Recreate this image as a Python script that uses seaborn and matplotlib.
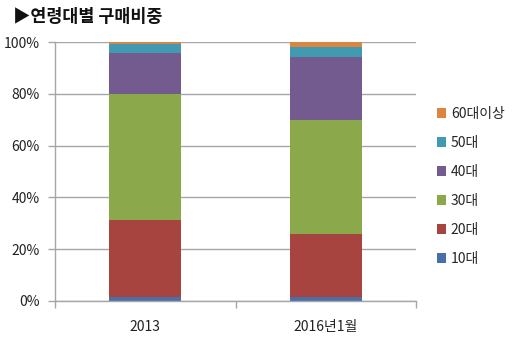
import matplotlib
matplotlib.use("Agg")
import matplotlib.pyplot as plt
from matplotlib.patches import Patch
from matplotlib.ticker import FixedLocator, PercentFormatter
import seaborn as sns
import numpy as np

# Purchase share by age group (%)
periods = ["2013", "2016년1월"]
age_groups = ["10대", "20대", "30대", "40대", "50대", "60대이상"]
share_10s = [1.4, 1.4]
share_20s = [29.9, 24.5]
share_30s = [48.8, 44.0]
share_40s = [15.8, 24.2]
share_50s = [3.3, 3.9]
share_60s = [0.8, 2.0]
colors = ["#4A6FA8", "#A8443F", "#8BA94A", "#735A8F", "#3F9AB2", "#DC8541"]

series = [share_10s, share_20s, share_30s, share_40s, share_50s, share_60s]

sns.set_theme(style="white")
plt.rcParams["font.family"] = ["Noto Sans CJK KR", "DejaVu Sans"]

fig = plt.figure(figsize=(5.32, 3.5), dpi=100)
ax = fig.add_axes([55 / 532, 1 - 301 / 350, (416 - 55) / 532, (301 - 42) / 350])

bottom = np.zeros(len(periods))
for name, vals, col in zip(age_groups, series, colors):
    sns.barplot(x=periods, y=vals, bottom=bottom, color=col, saturation=1,
                width=0.4, ax=ax, linewidth=0, label=name)
    bottom = bottom + np.array(vals)

ax.set_xlim(-0.5, 1.5)
ax.set_ylim(0, 100)
ax.yaxis.set_major_locator(FixedLocator([0, 20, 40, 60, 80, 100]))
ax.yaxis.set_major_formatter(PercentFormatter(decimals=0))
ax.yaxis.grid(True, color="#A6A6A6", linewidth=1)
ax.set_axisbelow(True)
ax.set_xlabel("")
ax.set_ylabel("")

for side in ["top", "right"]:
    ax.spines[side].set_visible(False)
for side in ["left", "bottom"]:
    ax.spines[side].set_color("#A6A6A6")
    ax.spines[side].set_linewidth(1)

ax.tick_params(axis="y", which="major", left=True, length=5, width=1,
               color="#A6A6A6", labelsize=10, pad=6, labelcolor="#222222")
ax.tick_params(axis="x", which="major", bottom=False, labelsize=10, pad=8,
               labelcolor="#222222")
ax.xaxis.set_minor_locator(FixedLocator([-0.5, 0.5, 1.5]))
ax.tick_params(axis="x", which="minor", bottom=True, length=5, width=1,
               color="#A6A6A6", direction="out")

handles = [Patch(facecolor=c, edgecolor="none") for c in colors][::-1]
labels = age_groups[::-1]
ax.legend(handles, labels, loc="upper left", bbox_to_anchor=(437 / 532, 1 - 107 / 350),
          bbox_transform=fig.transFigure, frameon=False, fontsize=10,
          handlelength=0.65, handleheight=0.65, handletextpad=0.35,
          labelspacing=1.08, borderpad=0, borderaxespad=0)

fig.text(13 / 532, 1 - 17 / 350, "▶연령대별 구매비중", fontsize=12.5, fontweight="bold",
         va="center", ha="left", color="#111111",
         family=["Noto Sans CJK KR", "DejaVu Sans"])

fig.savefig("out.png", dpi=100)
